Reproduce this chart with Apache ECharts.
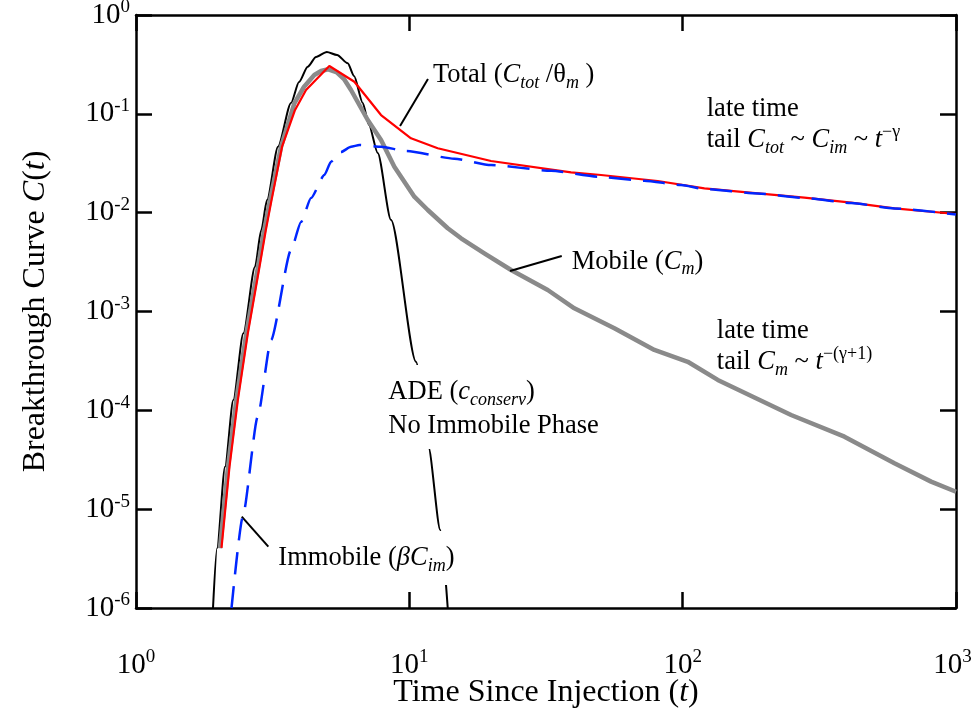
<!DOCTYPE html>
<html><head><meta charset="utf-8">
<script src="https://cdn.jsdelivr.net/npm/echarts@6/dist/echarts.min.js"></script>
<style>html,body{margin:0;padding:0;background:#fff;overflow:hidden}#c{width:973px;height:713px}</style>
</head><body><div id="c"></div>
<script>
// ---- data ----
const adeT = [1.913, 1.979, 2.117, 2.270, 2.470, 2.725, 2.873, 3.016, 3.308, 3.691, 3.948, 4.248, 4.557, 4.99, 5.439, 5.952, 6.277, 6.753, 7.119, 7.662, 8.57, 10.58, 11.74, 12.98, 13.82];
const adeC = [1e-6, 4.02e-6, 2.69e-5, 1.27e-4, 6.01e-4, 2.84e-3, 6.68e-3, 0.0134, 0.0465, 0.1288, 0.2099, 0.300, 0.3758, 0.423, 0.3938, 0.3246, 0.2414, 0.1288, 0.0771, 0.0401, 8.43e-3, 3.10e-4, 4.28e-5, 6.15e-6, 1e-6];

const mobileT = [2.029, 2.171, 2.328, 2.533, 2.796, 2.947, 3.093, 3.394, 3.795, 4.119, 4.491, 4.753, 5.053, 5.439, 5.768, 6.118, 7.044, 7.879, 8.814, 10.43, 11.68, 13.82, 15.46, 18.81, 23.56, 32.09, 40.15, 56.25, 78.78, 104.4, 134.4, 249.3, 390.7, 595.3, 810.7, 1000];
const mobileC = [4.02e-6, 2.69e-5, 1.27e-4, 6.01e-4, 2.84e-3, 6.68e-3, 0.0134, 0.0465, 0.1278, 0.188, 0.247, 0.2712, 0.2822, 0.2619, 0.2251, 0.1742, 0.0866, 0.0544, 0.02918, 0.0145, 0.01064, 6.95e-3, 5.50e-3, 3.88e-3, 2.63e-3, 1.65e-3, 1.077e-3, 6.76e-4, 4.08e-4, 3.10e-4, 2.03e-4, 8.97e-5, 5.41e-5, 2.91e-5, 1.90e-5, 1.50e-5];

const totalT = [2.055, 2.198, 2.358, 2.565, 2.83, 2.985, 3.132, 3.422, 3.818, 4.188, 5.097, 6.293, 7.879, 10.14, 12.70, 19.90, 39.05, 50.27, 81.07, 120.1, 188.3, 278.8, 413.2, 595.3, 1000];
const totalC = [4.05e-6, 2.69e-5, 1.27e-4, 6.01e-4, 2.84e-3, 6.68e-3, 0.0134, 0.0465, 0.1094, 0.1742, 0.3048, 0.2114, 0.0973, 0.0565, 0.0448, 0.03332, 0.02561, 0.02405, 0.02091, 0.01764, 0.01570, 0.01417, 0.01261, 0.01107, 0.00969];

const immT = [2.236, 2.458, 2.788, 3.119, 3.691, 4.016, 4.368, 4.887, 5.171, 5.626, 6.118, 6.564, 7.879, 9.726, 14.61, 19.90, 33.00, 48.91, 72.43, 98.65, 120.1, 188.3, 278.8, 413.2, 595.3, 1000];
const immC = [1e-6, 8.39e-6, 8.62e-5, 5.15e-4, 4.19e-3, 8.04e-3, 0.01407, 0.02405, 0.03278, 0.0411, 0.0465, 0.04837, 0.0465, 0.04206, 0.03516, 0.03034, 0.02658, 0.02311, 0.02106, 0.01905, 0.01736, 0.01563, 0.01407, 0.01252, 0.01102, 0.00958];

// axis ranges / titles
const xRange = [1, 1000];
const yRange = [1e-6, 1];
const xTitle = '{n|Time Since Injection (}{i|t}{n|)}';
const yTitle = '{n|Breakthrough Curve }{i|C}{n|(}{i|t}{n|)}';

// annotation texts, anchored in data space (left-middle of text)
const noteT = [12.21, 122.5, 122.5, 39.28, 133.3, 133.3, 8.38, 8.38, 3.317];
const noteC = [0.2471, 0.1119, 0.0543, 3.19e-3, 6.35e-4, 3.08e-4, 1.72e-4, 6.47e-5, 3.20e-6];
const noteText = [
  '{n|Total (}{i|C}{sub|tot}{n| /θ}{sub|m}{n| )}',
  '{n|late time}',
  '{n|tail }{i|C}{sub|tot}{n| ~ }{i|C}{sub|im}{n| ~ }{i|t}{sup|−γ}',
  '{n|Mobile (}{i|C}{sub|m}{n|)}',
  '{n|late time}',
  '{n|tail }{i|C}{sub|m}{n| ~ }{i|t}{sup|−(γ+1)}',
  '{n|ADE (}{i|c}{sub|conserv}{n|)}',
  '{n|No Immobile Phase}',
  '{n|Immobile (}{i|βC}{sub|im}{n|)}'
];
// white masks behind some notes (top, right, bottom padding)
const notePad = [null, null, null, null, null, null, [10, 4, 0, 0], [0, 4, 6, 0], [10, 4, 10, 0]];

// leader lines [t1, C1, t2, C2]
const leaders = [
  [9.247, 0.0753, 11.70, 0.2251],
  [23.36, 2.57e-3, 36.11, 3.64e-3],
  [2.437, 8.39e-6, 3.049, 4.17e-6]
];

// ---- chart ----
const FONT = '"Liberation Serif", "Times New Roman", serif';
const zip = (a, b) => a.map((v, i) => [v, b[i]]);
const expLabel = v => {
  const e = Math.round(Math.log10(v));
  const txt = e < 0 ? '-' + (-e) : String(e);
  return '{n|10}{' + (e === 3 ? 'se' : 's') + '|' + txt + '}';
};
const tickRich = {
  n: {fontFamily: FONT, fontSize: 29, color: '#000', lineHeight: 34, verticalAlign: 'middle'},
  s: {fontFamily: FONT, fontSize: 19, color: '#000', lineHeight: 19, verticalAlign: 'top'},
  se: {fontFamily: FONT, fontSize: 19, color: '#000', lineHeight: 19, verticalAlign: 'top', padding: [0, 7, 0, 0]}
};
const titleRich = {
  n: {fontFamily: FONT, fontSize: 32, color: '#000'},
  i: {fontFamily: FONT, fontSize: 32, color: '#000', fontStyle: 'italic'}
};
const noteRich = {
  n: {fontFamily: FONT, fontSize: 26.5, color: '#000', lineHeight: 34, verticalAlign: 'middle'},
  i: {fontFamily: FONT, fontSize: 26.5, color: '#000', fontStyle: 'italic', lineHeight: 34, verticalAlign: 'middle'},
  sub: {fontFamily: FONT, fontSize: 18, color: '#000', fontStyle: 'italic', lineHeight: 18, verticalAlign: 'bottom'},
  sup: {fontFamily: FONT, fontSize: 18, color: '#000', lineHeight: 18, verticalAlign: 'top'}
};
const frame = {lineStyle: {color: '#000', width: 2.5}};
const ticks = {show: true, inside: true, length: 16, lineStyle: {color: '#000', width: 2.5}};

function logAxis(range, pos, split, labelOpts, extra) {
  return Object.assign({
    type: 'log', logBase: 10, min: range[0], max: range[1], position: pos,
    splitNumber: split,
    axisLine: Object.assign({show: true, onZero: false}, frame),
    axisTick: ticks, minorTick: {show: false}, splitLine: {show: false},
    axisLabel: labelOpts
  }, extra || {});
}

const option = {
  animation: false,
  backgroundColor: '#fff',
  grid: {left: 136, right: 17, top: 15, bottom: 105, containLabel: false, outerBoundsMode: 'none'},
  xAxis: [
    logAxis(xRange, 'bottom', 3, {show: true, margin: 40, formatter: expLabel, rich: tickRich},
      {name: xTitle, nameLocation: 'middle', nameGap: 69, nameMoveOverlap: false, nameTextStyle: {rich: titleRich}}),
    logAxis(xRange, 'top', 3, {show: false})
  ],
  yAxis: [
    logAxis(yRange, 'left', 6, {show: true, margin: 6, formatter: expLabel, rich: tickRich},
      {name: yTitle, nameLocation: 'middle', nameGap: 84, nameMoveOverlap: false, nameRotate: 90, nameTextStyle: {rich: titleRich}}),
    logAxis(yRange, 'right', 6, {show: false})
  ],
  series: [
    {type: 'line', name: 'ADE', data: zip(adeT, adeC), symbol: 'none', smooth: 0.25, smoothMonotone: 'x', z: 2,
      lineStyle: {color: '#000', width: 2}},
    {type: 'line', name: 'Mobile', data: zip(mobileT, mobileC), symbol: 'none', smooth: false, z: 3,
      lineStyle: {color: '#8a8a8a', width: 4.5, join: 'round'}},
    {type: 'line', name: 'Total', data: zip(totalT, totalC), symbol: 'none', smooth: false, z: 4,
      lineStyle: {color: '#ff0000', width: 2.2}},
    {type: 'line', name: 'Immobile', data: zip(immT, immC), symbol: 'none', smooth: 0.2, smoothMonotone: 'x', z: 5,
      lineStyle: {color: '#0026ff', width: 2.5, type: [22, 12]}},
    {type: 'line', name: 'notes', data: [], symbol: 'none', z: 10, silent: true,
      markLine: {
        silent: true, symbol: ['none', 'none'], animation: false,
        lineStyle: {color: '#000', width: 2, type: 'solid'},
        label: {show: false},
        data: leaders.map(l => [{coord: [l[0], l[1]]}, {coord: [l[2], l[3]]}])
      },
      markPoint: {
        silent: true, symbol: 'circle', symbolSize: 0, animation: false,
        data: noteText.map((txt, i) => ({
          name: txt, coord: [noteT[i], noteC[i]],
          label: {
            show: true, position: 'right', distance: 0, formatter: p => p.name, rich: noteRich,
            backgroundColor: notePad[i] ? '#fff' : 'transparent', padding: notePad[i] || 0
          }
        }))
      }
    }
  ]
};
const chart = echarts.init(document.getElementById('c'));
chart.setOption(option);
</script>
</body></html>
